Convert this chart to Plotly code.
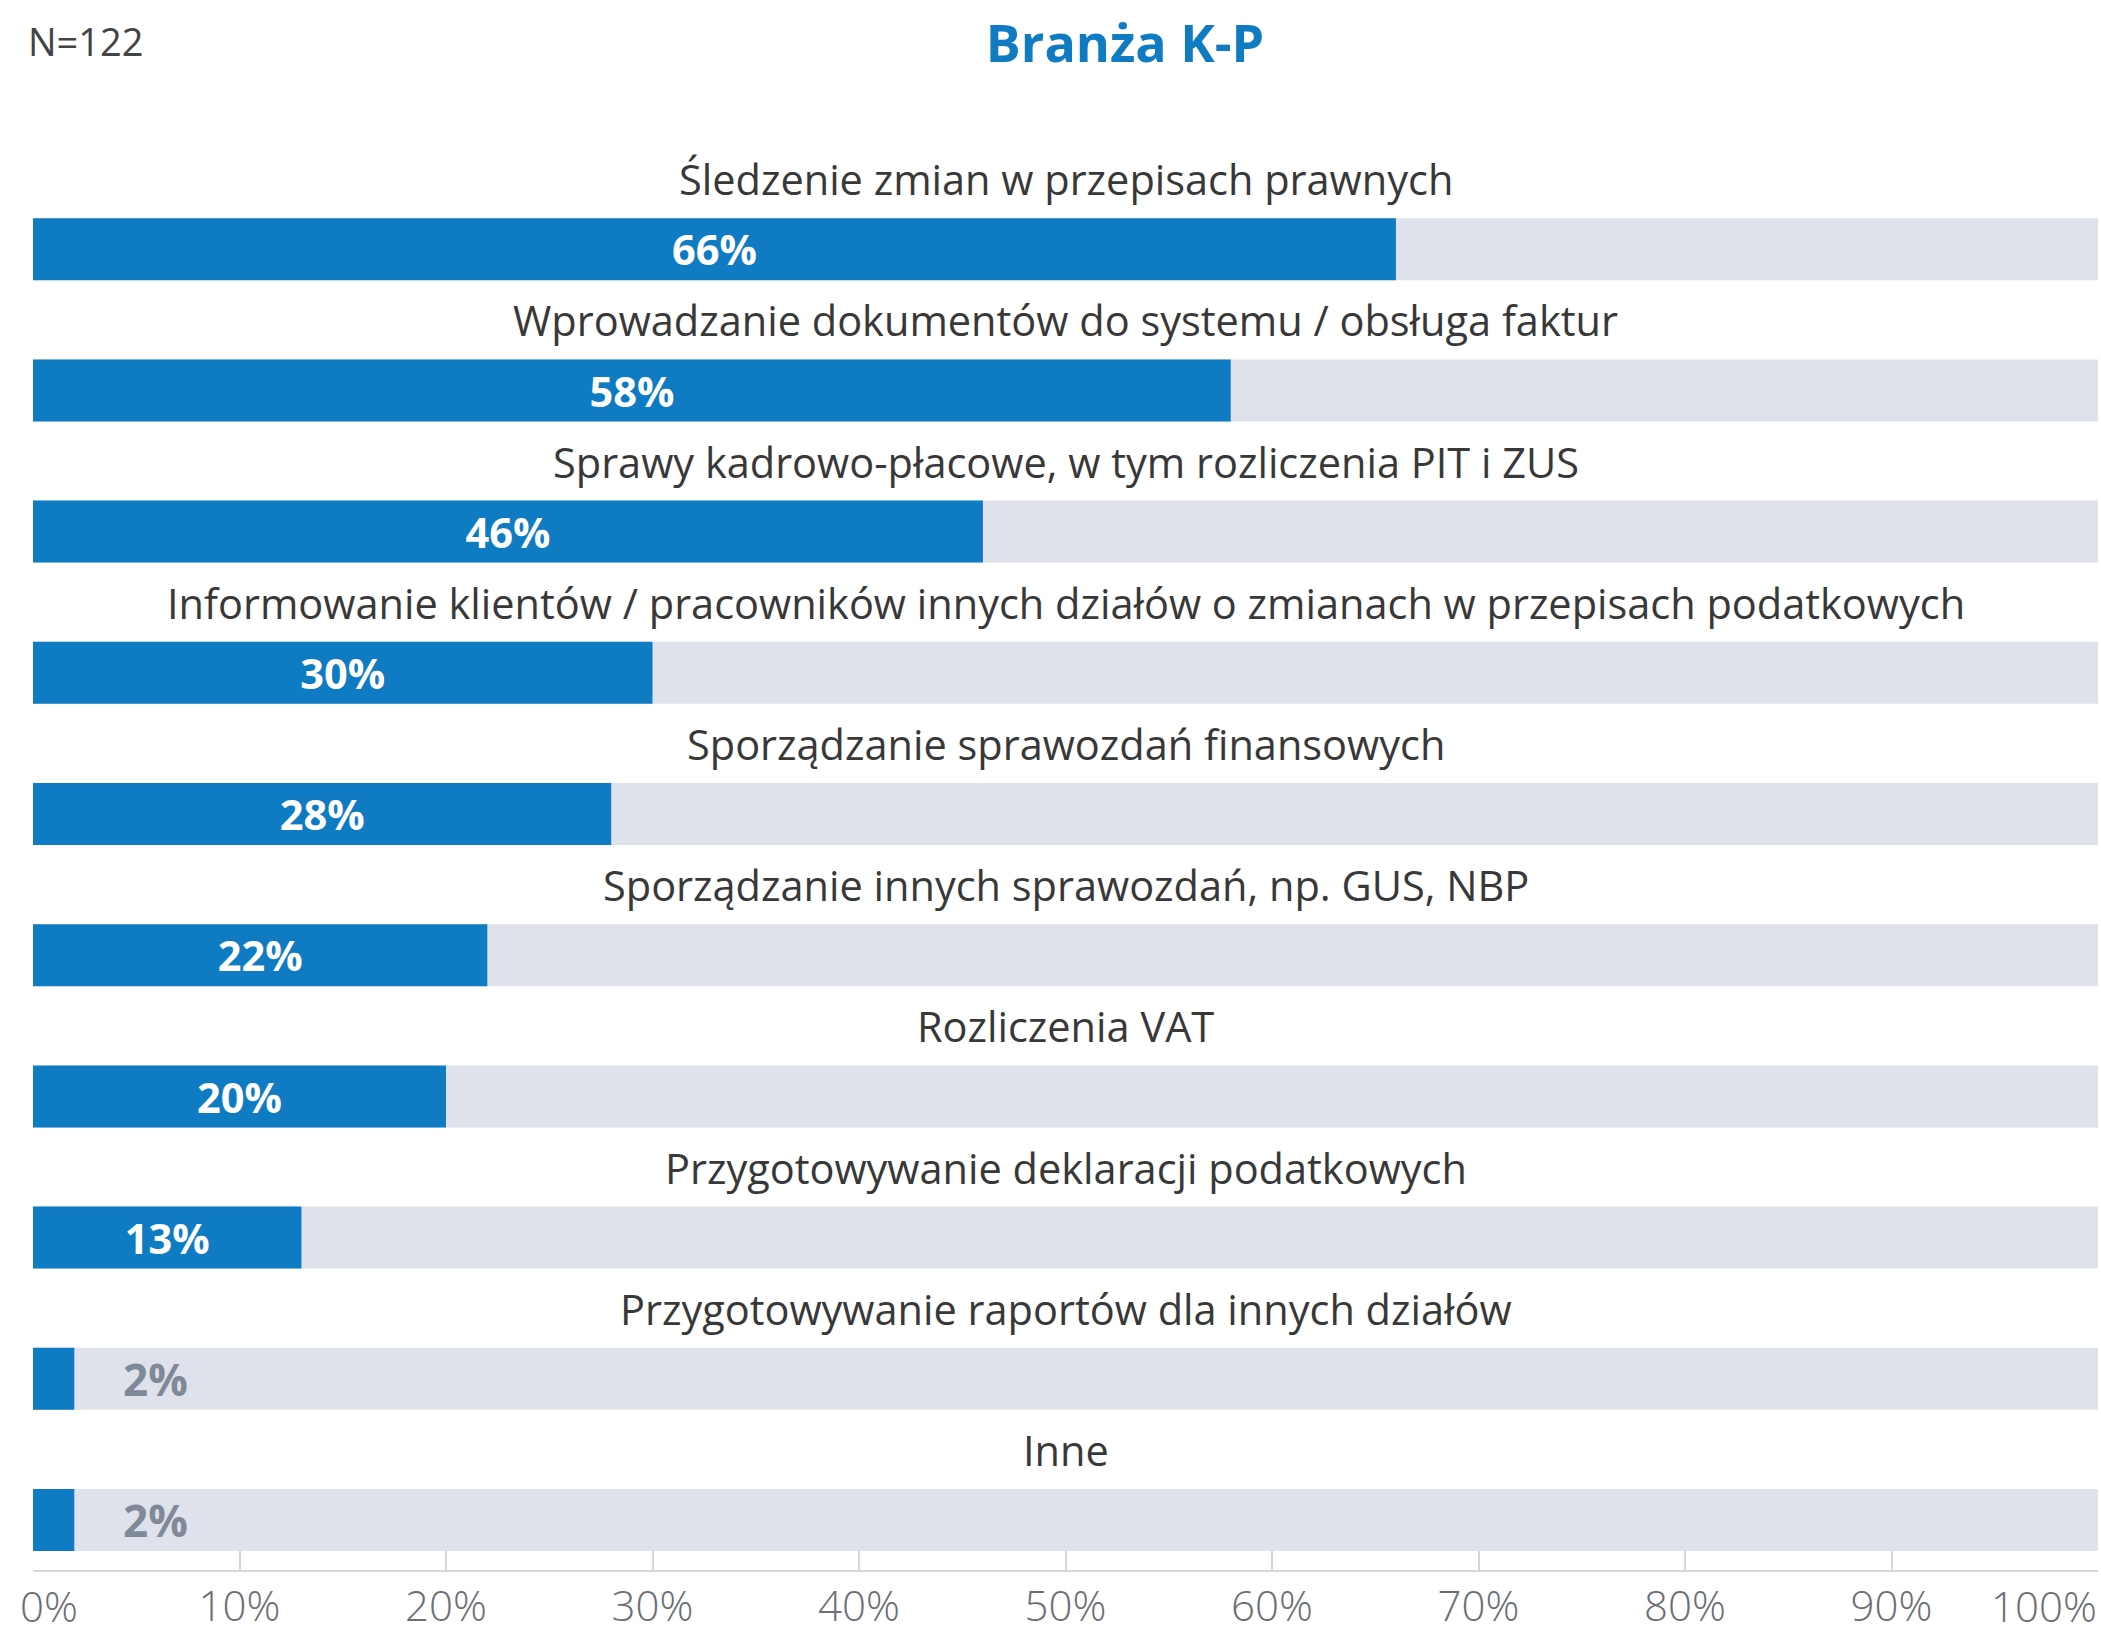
import plotly.graph_objects as go

categories = [
    "Śledzenie zmian w przepisach prawnych",
    "Wprowadzanie dokumentów do systemu / obsługa faktur",
    "Sprawy kadrowo-płacowe, w tym rozliczenia PIT i ZUS",
    "Informowanie klientów / pracowników innych działów o zmianach w przepisach podatkowych",
    "Sporządzanie sprawozdań finansowych",
    "Sporządzanie innych sprawozdań, np. GUS, NBP",
    "Rozliczenia VAT",
    "Przygotowywanie deklaracji podatkowych",
    "Przygotowywanie raportów dla innych działów",
    "Inne",
]
values = [66, 58, 46, 30, 28, 22, 20, 13, 2, 2]
track = [100] * len(categories)
tick_vals = [0, 10, 20, 30, 40, 50, 60, 70, 80, 90, 100]
tick_labels = ["0%", "10%", "20%", "30%", "40%", "50%", "60%", "70%", "80%", "90%", "100%"]
title_text = "Branża K-P"
n_text = "N=122"

NB = "\u00a0"
BLUE = "#0F7BC2"
TRACK = "#DFE2EA"
FONT = "Open Sans"
AXIS_GREY = "#D6D7DC"
TICK_COLOR = "#6B6E76"

# large bars carry their label inside, small bars get it just to the right
inside = [v >= 10 for v in values]
bar_text = [f"{v}%" if ins else NB * 4 + f"{v}%" for v, ins in zip(values, inside)]
positions = ["inside" if ins else "outside" for ins in inside]

fig = go.Figure()
fig.add_trace(go.Bar(
    y=categories, x=track, orientation="h",
    marker=dict(color=TRACK, line=dict(width=0)),
    hoverinfo="skip", showlegend=False,
))
fig.add_trace(go.Bar(
    y=categories, x=values, orientation="h",
    marker=dict(color=BLUE, line=dict(width=0)),
    text=bar_text, textposition=positions,
    insidetextanchor="middle",
    insidetextfont=dict(family=FONT, size=49, color="white", weight="bold"),
    outsidetextfont=dict(family=FONT, size=44, color="#7F8A98", weight="bold"),
    cliponaxis=False, showlegend=False,
))

annotations = [
    dict(x=0.5, xref="paper", y=c, yref="y", yshift=70, text=c, showarrow=False,
         font=dict(family=FONT, size=41.5, color="#383838"), xanchor="center", yanchor="middle")
    for c in categories
]
annotations.append(dict(
    x=-0.0034, xref="paper", y=1.0455, yref="paper", text=n_text, showarrow=False,
    xanchor="left", yanchor="middle", font=dict(family=FONT, size=38, color="#444444"),
))

tick_font = dict(family=FONT, size=42, color=TICK_COLOR, weight=300)

# end tick labels, nudged inward from their tick so they stay on the canvas
for val, lab, shift in [(tick_vals[0], tick_labels[0], 16), (tick_vals[-1], tick_labels[-1], -54)]:
    annotations.append(dict(
        x=val, xref="x", y=0, yref="paper", xshift=shift, yshift=-35,
        text=lab, showarrow=False, xanchor="center", yanchor="middle", font=tick_font,
    ))

fig.update_layout(
    width=2101, height=1633,
    margin=dict(l=33, r=3, t=108, b=63),
    paper_bgcolor="white", plot_bgcolor="white",
    barmode="overlay", bargap=0.561,
    title=dict(text=title_text, x=1125 / 2101, xref="container", xanchor="center",
               y=1 - 44 / 1633, yref="container", yanchor="middle",
               font=dict(family=FONT, size=52, color=BLUE, weight="bold")),
    annotations=annotations,
    xaxis=dict(range=[0, 100], tickvals=tick_vals,
               ticktext=[""] + tick_labels[1:-1] + [""],
               ticks="inside", ticklen=19, tickwidth=2, tickcolor=AXIS_GREY,
               showline=True, linecolor=AXIS_GREY, linewidth=2,
               showgrid=False, zeroline=False, automargin=False,
               ticklabelstandoff=-1, tickfont=tick_font),
    yaxis=dict(type="category", categoryorder="array", categoryarray=categories,
               range=[9.354, -1.0], showticklabels=False, showgrid=False,
               zeroline=False, ticks="", automargin=False),
)

# remove the browser's default page margin so the figure sits at the window origin
fig.write_html(
    "out.html",
    config={"displayModeBar": False},
    post_script="document.body.style.margin='0';document.body.style.overflow='hidden';",
)
